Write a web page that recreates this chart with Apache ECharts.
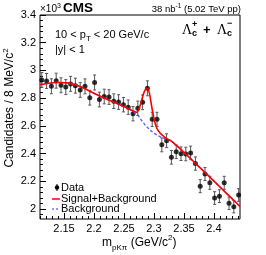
<!DOCTYPE html>
<html><head><meta charset="utf-8">
<script src="https://cdn.jsdelivr.net/npm/echarts@6/dist/echarts.min.js"></script>
<style>html,body{margin:0;padding:0;background:#fff}#c{width:266px;height:255px}</style>
</head><body><div id="c"></div>
<script>
// bin centers (GeV/c^2), 8 MeV bins
const binCenters = [2.113,2.121,2.129,2.137,2.145,2.153,2.161,2.169,2.177,2.185,2.193,2.201,2.209,2.217,2.225,2.233,2.241,2.249,2.257,2.265,2.273,2.281,2.289,2.297,2.305,2.313,2.321,2.329,2.337,2.345,2.353,2.361,2.369,2.377,2.385,2.393,2.401,2.409,2.417,2.425,2.433,2.441];
// candidates (x10^3)
const counts = [2.931,2.924,2.886,2.926,2.893,2.880,2.903,2.890,2.859,2.885,2.803,2.913,2.790,2.812,2.808,2.778,2.772,2.753,2.735,2.688,2.727,2.770,2.871,2.647,2.647,2.463,2.493,2.373,2.413,2.399,2.397,2.405,2.328,2.165,2.253,2.189,2.079,2.093,2.189,2.041,2.017,2.101];
const errors = [0.054,0.054,0.054,0.054,0.054,0.054,0.054,0.054,0.053,0.054,0.053,0.054,0.053,0.053,0.053,0.053,0.053,0.052,0.052,0.052,0.052,0.053,0.054,0.051,0.051,0.050,0.050,0.049,0.049,0.049,0.049,0.049,0.048,0.047,0.047,0.047,0.046,0.046,0.047,0.045,0.045,0.046];
// fit curves
const fitMass = [2.110,2.125,2.140,2.155,2.170,2.185,2.200,2.215,2.230,2.245,2.258,2.266,2.2712,2.2755,2.2795,2.2838,2.2878,2.2917,2.2962,2.3005,2.3045,2.310,2.316,2.3212,2.330,2.350,2.370,2.390,2.410,2.430,2.4433];
const fitSigBkg = [2.897,2.908,2.913,2.910,2.895,2.868,2.835,2.805,2.777,2.748,2.723,2.706,2.698,2.728,2.787,2.847,2.871,2.847,2.738,2.642,2.585,2.548,2.525,2.508,2.487,2.409,2.326,2.243,2.159,2.075,2.018];
const fitBkg    = [2.897,2.908,2.913,2.910,2.895,2.868,2.835,2.805,2.777,2.748,2.723,2.700,2.685,2.663,2.638,2.614,2.594,2.577,2.560,2.546,2.535,2.522,2.512,2.503,2.487,2.409,2.326,2.243,2.159,2.075,2.018];
// ticks
const xTickLabels = [2.15,2.2,2.25,2.3,2.35,2.4];
const yTickLabels = [2.0,2.2,2.4,2.6,2.8,3.0,3.2,3.4];
const xMinor = []; for (let i=0;i<=33;i++) xMinor.push(+(2.11+0.01*i).toFixed(2));
const yMinor = []; for (let i=0;i<=36;i++) yMinor.push(+(1.96+0.04*i).toFixed(2));

const FONT = "'Liberation Sans', Arial, sans-serif";
const chart = echarts.init(document.getElementById('c'), null, {renderer:'canvas'});
const pts = binCenters.map((x,i)=>[x,counts[i],errors[i]]);
const axCommon = {axisLine:{show:false}, splitLine:{show:false}};
chart.setOption({
  animation:false,
  grid:{left:40, top:15, width:200, height:204, show:true, borderColor:'#000', borderWidth:1, containLabel:false},
  xAxis:[
    Object.assign({type:'value', min:2.11, max:2.4433, gridIndex:0,
      axisTick:{show:true, inside:true, length:6, customValues:xTickLabels, lineStyle:{color:'#000'}},
      axisLabel:{show:true, customValues:xTickLabels, margin:4, color:'#000', fontSize:11, fontFamily:FONT, formatter:v=>String(+(+v).toFixed(2))}}, axCommon),
    Object.assign({type:'value', min:2.11, max:2.4433, gridIndex:0, position:'bottom',
      axisTick:{show:true, inside:true, length:3, customValues:xMinor, lineStyle:{color:'#000'}},
      axisLabel:{show:false}}, axCommon)
  ],
  yAxis:[
    Object.assign({type:'value', min:1.928, max:3.4, gridIndex:0,
      axisTick:{show:true, inside:true, length:6, customValues:yTickLabels, lineStyle:{color:'#000'}},
      axisLabel:{show:true, customValues:yTickLabels, margin:4, color:'#000', fontSize:11, fontFamily:FONT, formatter:v=>String(+(+v).toFixed(1))}}, axCommon),
    Object.assign({type:'value', min:1.928, max:3.4, gridIndex:0, position:'left',
      axisTick:{show:true, inside:true, length:3, customValues:yMinor, lineStyle:{color:'#000'}},
      axisLabel:{show:false}}, axCommon)
  ],
  series:[
    {type:'custom', xAxisIndex:0, yAxisIndex:0, data:pts, z:2,
      renderItem:(params, api)=>{
        const x=api.value(0), y=api.value(1), e=api.value(2);
        const a=api.coord([x,y+e]), b=api.coord([x,y-e]);
        const st={stroke:'#555', lineWidth:1};
        return {type:'group', children:[
          {type:'line', shape:{x1:a[0],y1:a[1],x2:b[0],y2:b[1]}, style:st},
          {type:'line', shape:{x1:a[0]-1.5,y1:a[1],x2:a[0]+1.5,y2:a[1]}, style:st},
          {type:'line', shape:{x1:b[0]-1.5,y1:b[1],x2:b[0]+1.5,y2:b[1]}, style:st}
        ]};
      }},
    {type:'scatter', xAxisIndex:0, yAxisIndex:0, data:pts.map(p=>[p[0],p[1]]), symbol:'circle', symbolSize:5, itemStyle:{color:'#000'}, z:3},
    {type:'line', xAxisIndex:0, yAxisIndex:0, data:fitMass.map((x,i)=>[x,fitBkg[i]]), showSymbol:false, smooth:0.3, lineStyle:{color:'#5a5aff', width:1.3, type:[3,2]}, z:4},
    {type:'line', xAxisIndex:0, yAxisIndex:0, data:fitMass.map((x,i)=>[x,fitSigBkg[i]]), showSymbol:false, smooth:0.3, lineStyle:{color:'#ff0000', width:1.6}, z:5}
  ],
  graphic:[
    {type:'text', x:40, y:9, style:{text:'×10{p|3}', fontSize:10, fontFamily:FONT, fill:'#000', verticalAlign:'middle', lineHeight:12, rich:{p:{fontSize:7, verticalAlign:'top', lineHeight:8, fontFamily:FONT}}}},
    {type:'text', x:63, y:8.5, style:{text:'CMS', fontSize:13.5, fontWeight:'bold', fontFamily:FONT, fill:'#000', verticalAlign:'middle'}},
    {type:'text', x:241, y:9, style:{text:'38 nb{p|-1} (5.02 TeV pp)', fontSize:9.5, fontFamily:FONT, fill:'#000', align:'right', verticalAlign:'middle', lineHeight:13, rich:{p:{fontSize:6.5, verticalAlign:'top', fontFamily:FONT}}}},
    {type:'text', x:55, y:35, style:{text:'10 < p{s|T} < 20 GeV/c', fontSize:11, fontFamily:FONT, fill:'#000', verticalAlign:'middle', lineHeight:16, rich:{s:{fontSize:8, verticalAlign:'bottom', lineHeight:9, fontFamily:FONT}}}},
    {type:'text', x:55, y:50, style:{text:'|y| < 1', fontSize:11, fontFamily:FONT, fill:'#000', verticalAlign:'middle'}},
    // Lambda_c labels
    {type:'text', x:182, y:30, style:{text:'Λ', fontSize:14, fontFamily:"'Liberation Serif', serif", fill:'#000', verticalAlign:'middle'}},
    {type:'text', x:192, y:34, style:{text:'c', fontSize:9, fontWeight:'bold', fontFamily:FONT, fill:'#000', verticalAlign:'middle'}},
    {type:'text', x:192, y:25, style:{text:'+', fontSize:9, fontWeight:'bold', fontFamily:FONT, fill:'#000', verticalAlign:'middle'}},
    {type:'text', x:203, y:30, style:{text:'+', fontSize:13, fontWeight:'bold', fontFamily:FONT, fill:'#000', verticalAlign:'middle'}},
    {type:'text', x:217, y:30, style:{text:'Λ', fontSize:14, fontFamily:"'Liberation Serif', serif", fill:'#000', verticalAlign:'middle'}},
    {type:'text', x:227, y:34, style:{text:'c', fontSize:9, fontWeight:'bold', fontFamily:FONT, fill:'#000', verticalAlign:'middle'}},
    {type:'text', x:227, y:24, style:{text:'−', fontSize:9, fontWeight:'bold', fontFamily:FONT, fill:'#000', verticalAlign:'middle'}},
    // legend
    {type:'line', shape:{x1:57,y1:184,x2:57,y2:191}, style:{stroke:'#000', lineWidth:1}},
    {type:'circle', shape:{cx:57, cy:187.5, r:2.2}, style:{fill:'#000'}},
    {type:'text', x:61, y:188, style:{text:'Data', fontSize:11, fontFamily:FONT, fill:'#000', verticalAlign:'middle'}},
    {type:'line', shape:{x1:52,y1:199,x2:60,y2:199}, style:{stroke:'#ff0000', lineWidth:1.5}},
    {type:'text', x:61, y:199, style:{text:'Signal+Background', fontSize:11, fontFamily:FONT, fill:'#000', verticalAlign:'middle'}},
    {type:'line', shape:{x1:52,y1:209,x2:60,y2:209}, style:{stroke:'#5a5aff', lineWidth:1.3, lineDash:[2,2]}},
    {type:'text', x:61, y:209, style:{text:'Background', fontSize:11, fontFamily:FONT, fill:'#000', verticalAlign:'middle'}},
    // axis titles
    {type:'text', x:102, y:243, style:{text:'m{s|pKπ} (GeV/c{p|2})', fontSize:12, fontFamily:FONT, fill:'#000', verticalAlign:'middle', lineHeight:18, rich:{s:{fontSize:8, verticalAlign:'bottom', lineHeight:10, fontFamily:FONT}, p:{fontSize:8, verticalAlign:'top', lineHeight:10, fontFamily:FONT}}}},
    {type:'text', x:10, y:108, rotation:Math.PI/2, style:{text:'Candidates / 8 MeV/c{p|2}', fontSize:12, fontFamily:FONT, fill:'#000', align:'center', verticalAlign:'middle', lineHeight:16, rich:{p:{fontSize:8, verticalAlign:'top', lineHeight:9, fontFamily:FONT}}}}
  ]
});
</script></body></html>
